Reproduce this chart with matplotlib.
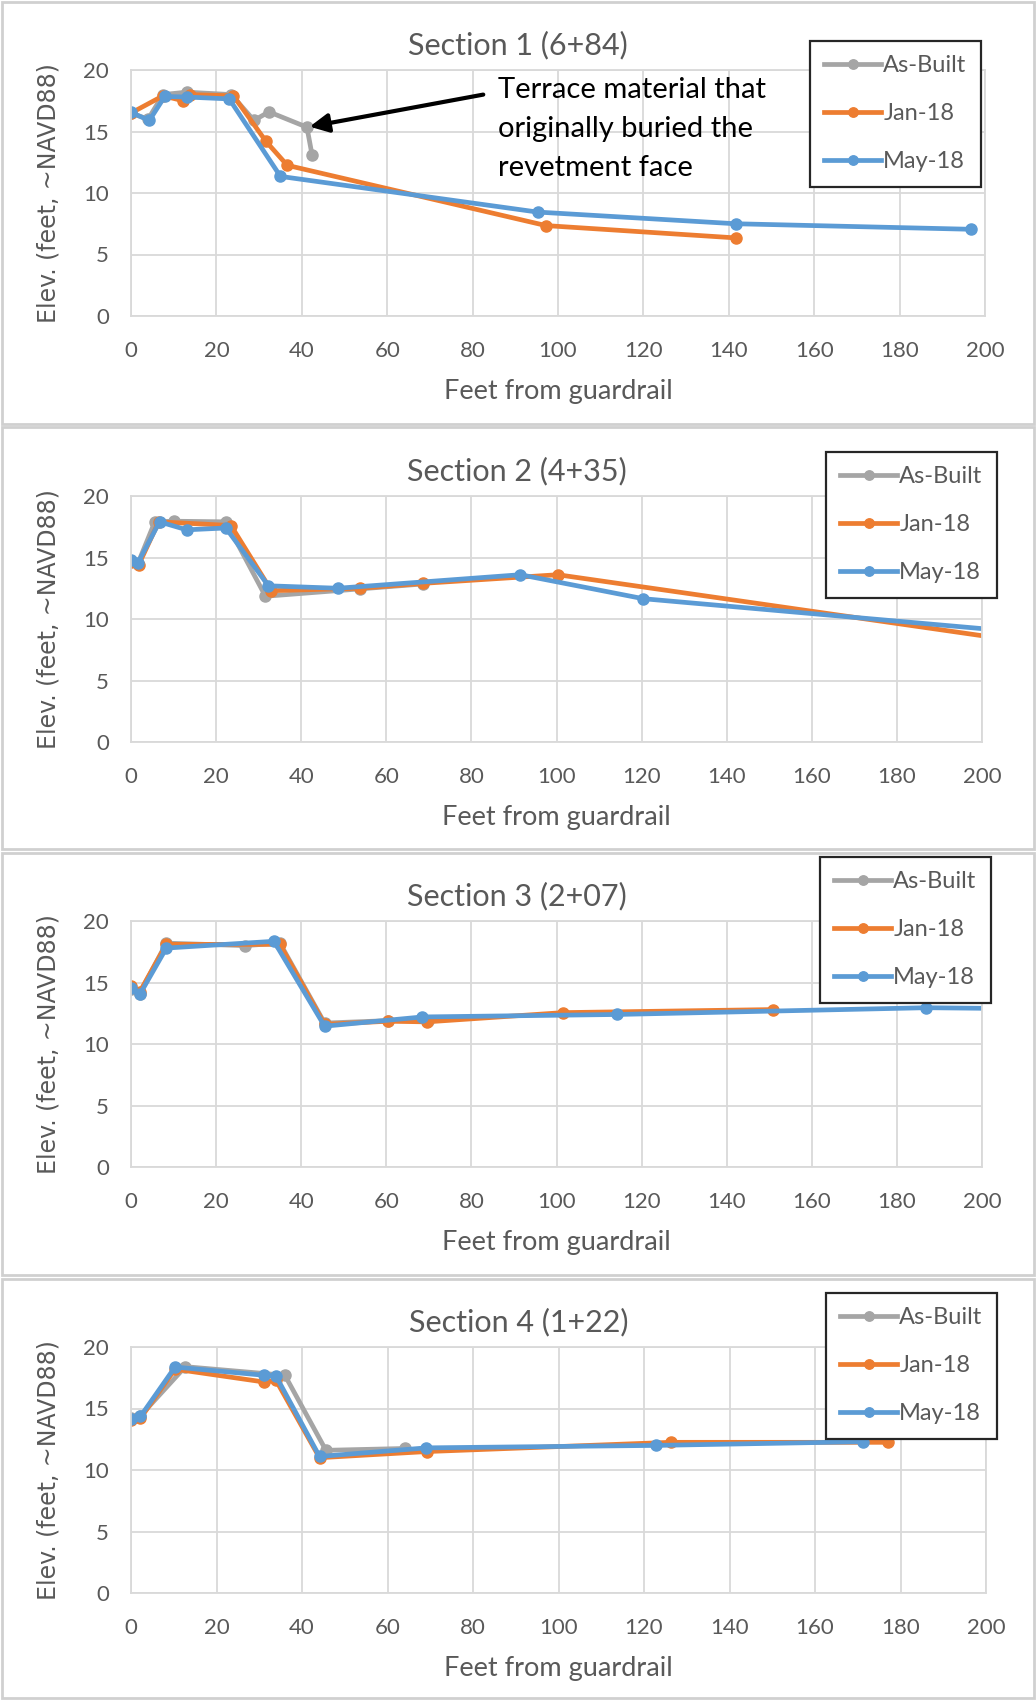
import matplotlib
matplotlib.use("Agg")
import matplotlib.pyplot as plt
from matplotlib.patches import Rectangle

# ---------------- data ----------------
series_names = ["As-Built", "Jan-18", "May-18"]
section_titles = ["Section 1 (6+84)", "Section 2 (4+35)", "Section 3 (2+07)", "Section 4 (1+22)"]

# Section 1
s1_ab_x = [0, 4, 7.5, 13, 23.5, 28.8, 32.3, 41.2, 42.4]
s1_ab_y = [16.5, 16.0, 18.0, 18.2, 18.0, 15.9, 16.6, 15.35, 13.1]
s1_jan_x = [0, 7.5, 12.2, 13.8, 24, 31.6, 36.6, 97.2, 141.6]
s1_jan_y = [16.5, 17.9, 17.5, 18.0, 17.9, 14.2, 12.25, 7.35, 6.35]
s1_may_x = [0, 4.3, 7.9, 13.1, 23, 35, 95.2, 141.6, 196.7]
s1_may_y = [16.55, 15.9, 17.85, 17.8, 17.65, 11.35, 8.45, 7.5, 7.05]

# Section 2
s2_ab_x = [0, 1.6, 5.6, 10.1, 22.3, 31.6, 53.9, 68.7]
s2_ab_y = [14.7, 14.5, 17.9, 17.95, 17.9, 11.85, 12.45, 12.85]
s2_jan_x = [0, 1.8, 6.5, 23.5, 33, 53.9, 68.7, 100.3, 230]
s2_jan_y = [14.6, 14.4, 17.9, 17.6, 12.3, 12.5, 12.9, 13.6, 7.15]
s2_may_x = [0, 1.6, 6.7, 13.1, 22.3, 32.3, 48.6, 91.5, 120.4, 230]
s2_may_y = [14.8, 14.55, 17.9, 17.25, 17.4, 12.7, 12.5, 13.6, 11.65, 8.3]

# Section 3
s3_ab_x = [0, 2, 8.3, 26.8, 35, 45.5, 60.4, 69.7]
s3_ab_y = [14.5, 14.1, 18.2, 18.0, 18.2, 11.7, 11.9, 11.9]
s3_jan_x = [0, 2, 8.3, 35, 45.5, 60.4, 69.5, 101.5, 150.9]
s3_jan_y = [14.7, 14.2, 18.1, 18.1, 11.6, 11.85, 11.8, 12.55, 12.8]
s3_may_x = [0, 2.1, 8.3, 33.6, 45.5, 68.5, 114.2, 186.9, 230]
s3_may_y = [14.55, 14.05, 17.8, 18.35, 11.45, 12.2, 12.4, 12.95, 12.8]

# Section 4
s4_ab_x = [0, 2.2, 12.7, 36, 45.6, 64]
s4_ab_y = [14.2, 14.4, 18.4, 17.7, 11.6, 11.75]
s4_jan_x = [0, 2.2, 10.3, 31.2, 33.9, 44.1, 69.2, 126.2, 177.1]
s4_jan_y = [14.1, 14.2, 18.2, 17.15, 17.3, 11.0, 11.5, 12.25, 12.25]
s4_may_x = [0, 2.2, 10.3, 31.2, 33.9, 44.1, 69.1, 122.9, 171.3]
s4_may_y = [14.17, 14.35, 18.37, 17.7, 17.65, 11.1, 11.8, 12.0, 12.3]

x_ticks = [0, 20, 40, 60, 80, 100, 120, 140, 160, 180, 200]
y_ticks = [0, 5, 10, 15, 20]

annotation_text = "Terrace material that\noriginally buried the\nrevetment face"

sections = [
    ((s1_ab_x, s1_ab_y), (s1_jan_x, s1_jan_y), (s1_may_x, s1_may_y)),
    ((s2_ab_x, s2_ab_y), (s2_jan_x, s2_jan_y), (s2_may_x, s2_may_y)),
    ((s3_ab_x, s3_ab_y), (s3_jan_x, s3_jan_y), (s3_may_x, s3_may_y)),
    ((s4_ab_x, s4_ab_y), (s4_jan_x, s4_jan_y), (s4_may_x, s4_may_y)),
]

# ---------------- style ----------------
colors = ["#A5A5A5", "#ED7D31", "#5B9BD5"]
txt_gray = "#595959"
grid_col = "#D9D9D9"
font_main = ["Lato", "DejaVu Sans"]

W, H = 1036, 1700
fig = plt.figure(figsize=(W / 100, H / 100), dpi=100)

# plot-area boxes in pixel coordinates (left, top, right, bottom)
plot_boxes = [(131, 70, 985, 316), (131, 496, 982, 742), (131, 921, 982, 1167), (131, 1347, 986, 1593)]
legend_pos = [(810, 41), (826, 452), (820, 857), (826, 1293)]
panel_bounds = [(2, 424), (427, 849), (853, 1275), (1279, 1698)]

for (t, b) in panel_bounds:
    fig.patches.append(Rectangle((2 / W, 1 - b / H), (W - 4) / W, (b - t) / H,
                                 transform=fig.transFigure, fill=False,
                                 edgecolor="#D0D0D0", lw=2))

for i, (box, data) in enumerate(zip(plot_boxes, sections)):
    l, t, r, b = box
    ax = fig.add_axes([l / W, 1 - b / H, (r - l) / W, (b - t) / H])
    for (xs, ys), c, name in zip(data, colors, series_names):
        ax.plot(xs, ys, color=c, lw=3.4, marker="o", ms=8, label=name,
                solid_joinstyle="round")
    ax.set_xlim(0, 200)
    ax.set_ylim(0, 20)
    ax.set_xticks(x_ticks)
    ax.set_yticks(y_ticks)
    ax.grid(True, color=grid_col, lw=1.3)
    ax.set_axisbelow(True)
    for s in ax.spines.values():
        s.set_color(grid_col)
        s.set_linewidth(1.3)
    ax.tick_params(length=0, labelsize=16, labelcolor=txt_gray)
    ax.tick_params(axis="y", pad=16)
    ax.tick_params(axis="x", pad=18)
    for lab in ax.get_xticklabels() + ax.get_yticklabels():
        lab.set_fontfamily(font_main)
    ax.set_xlabel("Feet from guardrail", fontsize=19.5, color=txt_gray, family=font_main)
    ax.xaxis.set_label_coords(0.5, -0.305)
    ax.xaxis.label.set_va("center")
    ax.set_ylabel("Elev. (feet, ~NAVD88)", fontsize=17, color=txt_gray, family=["DejaVu Sans"])
    ax.yaxis.set_label_coords(-0.097, 0.5)
    ax.yaxis.label.set_va("center")
    ax.text(0.453, 1.102, section_titles[i], transform=ax.transAxes, ha="center", va="center",
            fontsize=22, color=txt_gray, family=font_main)
    lx, ly = legend_pos[i]
    leg = ax.legend(loc="upper left", bbox_to_anchor=(lx / W, 1 - ly / H),
                    bbox_transform=fig.transFigure, borderaxespad=0,
                    fancybox=False, framealpha=1, edgecolor="#262626",
                    prop={"family": font_main, "size": 17}, labelcolor=txt_gray,
                    handlelength=2.4, handletextpad=0.1, labelspacing=1.15,
                    borderpad=0.6, markerscale=0.85)
    leg.get_frame().set_linewidth(1.6)
    leg.set_zorder(10)
    if i == 0:
        ax.annotate("", xy=(s1_ab_x[-2], s1_ab_y[-2]), xytext=(82.5, 18.0),
                    arrowprops=dict(arrowstyle="-|>", lw=3, color="black",
                                    mutation_scale=28, shrinkA=0, shrinkB=2))
        ax.text(86, 19.4, annotation_text, ha="left", va="top", fontsize=21,
                color="black", family=font_main, linespacing=1.6)

fig.savefig("out.png", dpi=100, facecolor="white")
